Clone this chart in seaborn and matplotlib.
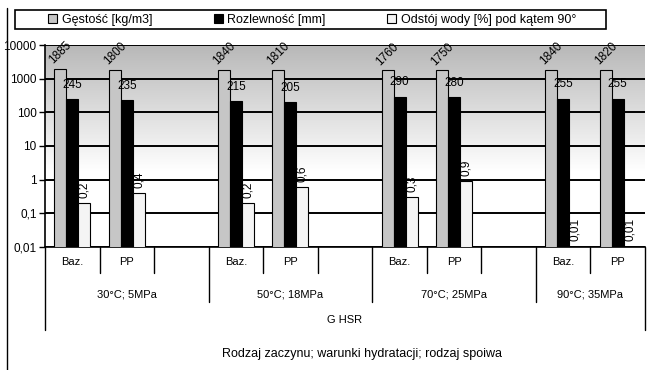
import numpy as np
import pandas as pd
import seaborn as sns
import matplotlib.pyplot as plt
import matplotlib.transforms as mtransforms
from matplotlib.lines import Line2D
from matplotlib.patches import Rectangle
from matplotlib.colors import LinearSegmentedColormap
from matplotlib.ticker import NullLocator

# ---- dane ----
warunki = ["30°C; 5MPa", "50°C; 18MPa", "70°C; 25MPa", "90°C; 35MPa"]
zaczyny = ["Baz.", "PP"]
gestosc = [1885, 1800, 1840, 1810, 1760, 1750, 1840, 1820]
rozlewnosc = [245, 235, 215, 205, 290, 280, 255, 255]
odstoj = [0.2, 0.4, 0.2, 0.6, 0.3, 0.9, 0.01, 0.01]
serie = ["Gęstość [kg/m3]", "Rozlewność [mm]", "Odstój wody [%] pod kątem 90°"]
spoiwo = "G HSR"
tytul_osi = "Rodzaj zaczynu; warunki hydratacji; rodzaj spoiwa"
y_ticks = [0.01, 0.1, 1, 10, 100, 1000, 10000]

# tabela w formacie dlugim + kolejnosc slotow (z pustym slotem po kazdej grupie)
rows = []
order = []
for i, w in enumerate(warunki):
    for j, z in enumerate(zaczyny):
        key = f"{w}|{z}"
        order.append(key)
        k = 2 * i + j
        for s, vals in zip(serie, [gestosc, rozlewnosc, odstoj]):
            rows.append({"slot": key, "seria": s, "wartosc": vals[k]})
    if i < len(warunki) - 1:
        order.append(f"{w}|")
df = pd.DataFrame(rows)

sns.set_theme(style="white")
plt.rcParams['font.family'] = ['Liberation Sans Narrow', 'Liberation Sans', 'DejaVu Sans']
plt.rcParams.update({'text.color': 'black', 'axes.labelcolor': 'black',
                     'xtick.color': 'black', 'ytick.color': 'black'})

W, H = 647, 370
fig = plt.figure(figsize=(W / 100, H / 100), dpi=100)
ax = fig.add_axes([45 / W, 1 - 247 / H, 600 / W, 202 / H])

# tlo obszaru wykresu - szary gradient u gory
grad = np.clip(np.linspace(0, 1.6, 256), 0, 1).reshape(-1, 1)
cmap_bg = LinearSegmentedColormap.from_list("bg", ["#b8b8b8", "#ffffff"])
ax.imshow(grad, extent=[0, 1, 0, 1], transform=ax.transAxes, aspect='auto',
          cmap=cmap_bg, zorder=0)

sns.barplot(data=df, x="slot", y="wartosc", hue="seria", order=order,
            hue_order=serie, palette=["#c6c6c6", "#000000", "#f4f4f4"],
            width=0.66, edgecolor="black", linewidth=0.8, errorbar=None,
            ax=ax, zorder=3)

ax.set_yscale('log')
ax.set_ylim(0.01, 10000)
ax.set_xlim(-0.5, len(order) - 0.5)
ax.set_yticks(y_ticks)
ax.set_yticklabels([f"{v:g}".replace('.', ',') for v in y_ticks])
ax.yaxis.set_minor_locator(NullLocator())
ax.set_xticks([])
ax.set_xlabel("")
ax.set_ylabel("")
ax.tick_params(axis='y', left=True, length=4, width=1, direction='out',
               labelsize=8.5, pad=2, colors='black')

ax.set_axisbelow(True)
ax.yaxis.grid(True, color='black', lw=1.4)

for side in ['top', 'right']:
    ax.spines[side].set_visible(False)
for side in ['left', 'bottom']:
    ax.spines[side].set_visible(True)
    ax.spines[side].set_color('black')
    ax.spines[side].set_linewidth(1.2)

# etykiety slupkow
fmt = lambda v: f"{v:g}".replace('.', ',')
c_gest, c_rozl, c_odst = ax.containers[:3]
ax.bar_label(c_gest, fmt=fmt, rotation=45, padding=2, fontsize=8.5)
ax.bar_label(c_rozl, fmt=fmt, padding=6, fontsize=8.5)
ax.bar_label(c_odst, fmt=fmt, rotation=90, padding=4, fontsize=8.5)

# wielopoziomowa os kategorii
tr = mtransforms.blended_transform_factory(ax.transData, ax.transAxes)
y1, y2, y3 = -0.129, -0.272, -0.411
n = len(order)
group_starts = [3 * i for i in range(len(warunki))]
group_ends = [min(s + 2, n - 1) for s in group_starts]
for x in [-0.5, n - 0.5]:
    ax.plot([x, x], [0, y3], transform=tr, color='black', lw=1, clip_on=False)
for s in group_starts[1:]:
    ax.plot([s - 0.5, s - 0.5], [0, y2], transform=tr, color='black', lw=1, clip_on=False)
for i, s in enumerate(group_starts):
    for k in range(s, group_ends[i]):
        ax.plot([k + 0.5, k + 0.5], [0, y1], transform=tr, color='black', lw=1, clip_on=False)
    for j, z in enumerate(zaczyny):
        ax.text(s + j, -0.074, z, transform=tr, ha='center', va='center', fontsize=8)
    ax.text((s - 0.5 + group_ends[i] + 0.5) / 2, -0.233, warunki[i], transform=tr,
            ha='center', va='center', fontsize=8)
ax.text((n - 1) / 2, -0.361, spoiwo, transform=tr, ha='center', va='center', fontsize=8)
fig.text(362 / W, 1 - 354 / H, tytul_osi, ha='center', va='center', fontsize=9)

# legenda w ramce u gory
handles, labels = ax.get_legend_handles_labels()
ax.get_legend().remove()
fig.legend(handles, labels, loc='center left', mode='expand', ncol=3,
           bbox_to_anchor=(48 / W, 1 - 20 / H, 528 / W, 0.0), frameon=False,
           fontsize=9, handlelength=0.75, handleheight=0.75, handletextpad=0.35,
           borderpad=0, borderaxespad=0)
fig.add_artist(Rectangle((15 / W, 1 - 29 / H), 591 / W, 19 / H, transform=fig.transFigure,
                         fill=False, edgecolor='black', lw=1.2))
fig.add_artist(Line2D([7 / W, 7 / W], [0, 1 - 8 / H], color='black', lw=1))

fig.savefig("out.png", dpi=100)
